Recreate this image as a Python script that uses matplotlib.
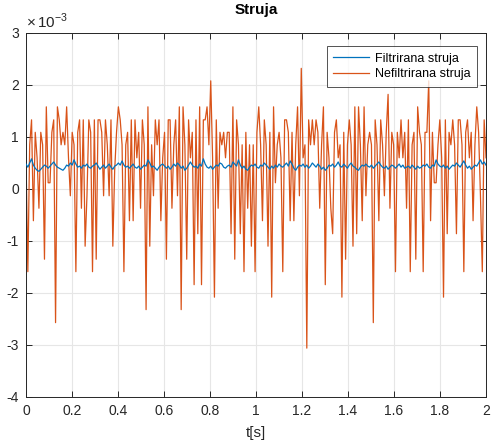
import numpy as np
import matplotlib
matplotlib.use("Agg")
import matplotlib.pyplot as plt

plt.rcParams['font.family'] = ['Liberation Sans', 'DejaVu Sans']
plt.rcParams['axes.unicode_minus'] = False
plt.rcParams['mathtext.fontset'] = 'custom'
plt.rcParams['mathtext.rm'] = 'Liberation Sans'

# Unfiltered current (units of 1e-3 A), 250 samples over 0..2 s
nefiltrirana = [
    0.6, -1.59, 0.85, 1.33, -0.61, 1.09, 0.6, -0.37, 1.09, 0.85,
    -1.35, 1.58, 0.12, 0.12, 1.09, 1.33, -2.57, 1.58, 1.33, 0.85,
    1.09, 0.85, 1.58, 0.6, -0.13, 1.09, 0.85, -1.59, 1.09, 1.33,
    -0.37, 1.33, -1.10, -0.13, 1.33, 1.09, -1.59, 1.33, -1.35, 1.33,
    1.33, 1.09, -0.13, 1.33, 0.85, -0.13, 1.33, -1.10, 0.36, 1.09,
    1.58, 1.33, 0.85, -1.59, 0.85, 1.09, -0.61, 1.33, -0.61, 1.33,
    0.6, 1.09, -0.37, 1.33, 0.85, -2.32, 1.58, -1.10, 0.85, -0.13,
    1.33, 0.85, 1.33, -0.61, 0.6, 1.09, -1.35, 1.33, 1.33, -0.37,
    0.85, 1.33, -0.13, 1.58, -2.32, 1.58, 0.85, -1.35, 1.33, 0.6,
    1.09, -1.84, 1.33, -0.86, 1.58, -1.84, 1.33, 1.33, 1.58, 0.85,
    2.08, 0.6, -2.08, 1.33, -0.37, 1.09, 0.85, 1.09, 0.6, 1.09,
    1.09, -0.86, 1.58, -1.35, 1.33, 0.85, -0.86, 0.85, -1.59, 1.09,
    -0.37, 0.85, -1.10, 0.85, -1.59, 1.09, 1.58, 0.85, -0.61, 1.33,
    0.85, -1.10, 1.09, -2.08, 1.58, 0.12, 0.85, 1.09, 0.6, -1.59,
    1.33, 1.33, 1.09, -0.61, 1.09, -0.61, 0.85, 1.58, -0.13, 2.32,
    0.6, 0.85, -3.06, 1.33, 0.85, 1.33, 0.85, 1.33, 1.09, -0.37,
    0.85, 1.58, -1.84, 1.09, 0.6, -0.37, -0.86, 1.09, 1.33, 0.6,
    0.85, -2.08, 1.09, -1.35, 0.85, 1.33, 0.85, -1.10, 1.58, -0.86,
    1.58, 0.85, -0.61, 1.58, -0.13, 0.85, 1.09, 0.85, -2.57, 1.33,
    0.85, -0.61, 1.33, 0.85, -0.13, 1.09, 1.82, -0.37, 1.09, 0.85,
    -1.59, 1.09, 0.6, 1.33, 0.6, 1.09, -0.37, 1.33, -1.59, 0.85,
    1.09, -1.35, 1.58, 1.09, 0.85, -1.59, 1.09, 1.09, 2.08, -0.61,
    1.09, 0.12, 0.12, 0.85, 1.33, 0.6, -2.08, 1.33, -0.86, 1.09,
    0.85, 1.33, 0.85, -0.86, 1.33, 1.33, 0.85, -1.59, 1.09, 1.33,
    0.6, 1.09, -0.61, 0.85, 1.58, 1.09, -0.13, -1.59, 1.33, 0.6,
]

# Filtered current (units of 1e-3 A), 250 samples
filtrirana = [
    0.48, 0.42, 0.50, 0.58, 0.46, 0.40, 0.36, 0.34, 0.38, 0.42,
    0.46, 0.44, 0.40, 0.44, 0.48, 0.52, 0.46, 0.42, 0.40, 0.38,
    0.36, 0.40, 0.46, 0.44, 0.50, 0.46, 0.56, 0.48, 0.42, 0.44,
    0.40, 0.46, 0.44, 0.48, 0.42, 0.40, 0.44, 0.46, 0.50, 0.44,
    0.38, 0.42, 0.46, 0.40, 0.44, 0.48, 0.42, 0.38, 0.44, 0.46,
    0.50, 0.46, 0.54, 0.46, 0.42, 0.44, 0.40, 0.44, 0.48, 0.42,
    0.40, 0.44, 0.38, 0.42, 0.46, 0.44, 0.56, 0.50, 0.42, 0.44,
    0.40, 0.36, 0.42, 0.46, 0.48, 0.44, 0.40, 0.44, 0.38, 0.42,
    0.48, 0.44, 0.50, 0.46, 0.40, 0.44, 0.36, 0.40, 0.46, 0.52,
    0.46, 0.42, 0.44, 0.40, 0.48, 0.44, 0.58, 0.48, 0.42, 0.40,
    0.44, 0.38, 0.42, 0.46, 0.44, 0.50, 0.48, 0.42, 0.40, 0.44,
    0.46, 0.42, 0.52, 0.48, 0.44, 0.56, 0.46, 0.40, 0.44, 0.38,
    0.36, 0.42, 0.46, 0.44, 0.48, 0.42, 0.40, 0.46, 0.44, 0.50,
    0.46, 0.42, 0.38, 0.44, 0.40, 0.46, 0.42, 0.48, 0.44, 0.42,
    0.46, 0.50, 0.44, 0.54, 0.48, 0.40, 0.36, 0.42, 0.46, 0.44,
    0.48, 0.42, 0.46, 0.40, 0.44, 0.50, 0.46, 0.42, 0.48, 0.44,
    0.38, 0.42, 0.36, 0.40, 0.46, 0.44, 0.48, 0.42, 0.46, 0.52,
    0.44, 0.42, 0.48, 0.44, 0.40, 0.46, 0.50, 0.44, 0.42, 0.38,
    0.36, 0.42, 0.46, 0.44, 0.48, 0.44, 0.42, 0.46, 0.40, 0.44,
    0.48, 0.52, 0.46, 0.42, 0.40, 0.44, 0.38, 0.42, 0.46, 0.44,
    0.40, 0.44, 0.48, 0.42, 0.46, 0.40, 0.42, 0.44, 0.40, 0.46,
    0.42, 0.38, 0.44, 0.40, 0.42, 0.46, 0.44, 0.48, 0.42, 0.40,
    0.46, 0.44, 0.56, 0.48, 0.44, 0.42, 0.46, 0.40, 0.44, 0.38,
    0.42, 0.46, 0.44, 0.50, 0.46, 0.42, 0.48, 0.54, 0.46, 0.40,
    0.44, 0.38, 0.42, 0.46, 0.44, 0.50, 0.56, 0.48, 0.52, 0.46,
]

xticks = [0, 0.2, 0.4, 0.6, 0.8, 1, 1.2, 1.4, 1.6, 1.8, 2]
yticks = [-4, -3, -2, -1, 0, 1, 2, 3]

t_nf = np.linspace(0, 2, len(nefiltrirana))
t_f = np.linspace(0, 2, len(filtrirana))

fig = plt.figure(figsize=(4.91, 4.41), dpi=100)
ax = fig.add_axes([26/491, 1-397/441, 460/491, 364/441])

l1, = ax.plot(t_f, np.array(filtrirana)*1e-3, color='#0072BD', lw=0.9,
              label='Filtrirana struja', zorder=3)
l2, = ax.plot(t_nf, np.array(nefiltrirana)*1e-3, color='#D95319', lw=0.9,
              label='Nefiltrirana struja', zorder=2)

ax.set_xlim(0, 2)
ax.set_ylim(-4e-3, 3e-3)
ax.set_xticks(xticks)
ax.set_xticklabels([f'{v:g}' for v in xticks])
ax.set_yticks([v*1e-3 for v in yticks])
ax.set_yticklabels([f'{v:d}' for v in yticks])
ax.text(0, 1.006, r'$\times\,10^{-3}$', transform=ax.transAxes, fontsize=11,
        ha='left', va='bottom', color='#262626')

ax.grid(True, color='#e6e6e6', lw=0.8)
ax.set_axisbelow(True)
ax.tick_params(direction='in', top=True, right=True, length=4, width=0.7,
               labelsize=10, colors='#262626', pad=5)
for s in ax.spines.values():
    s.set_color('#262626')
    s.set_linewidth(0.7)

ax.set_title('Struja', fontsize=11, fontweight='bold', pad=14, color='black')
ax.set_xlabel('t[s]', fontsize=11, color='#262626', labelpad=6)

leg = ax.legend(loc='upper right', fontsize=9, frameon=True, fancybox=False,
                edgecolor='#262626', bbox_to_anchor=(0.981, 0.963),
                borderaxespad=0.0, handlelength=2.9, handletextpad=0.5,
                borderpad=0.5, labelspacing=0.3)
leg.get_frame().set_linewidth(0.7)

fig.savefig('out.png', dpi=100)
